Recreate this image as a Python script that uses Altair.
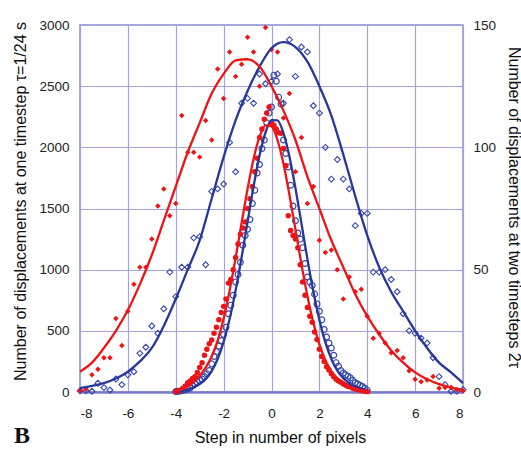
import altair as alt
import pandas as pd

# ---------------- data ----------------
# one-timestep data (left axis), steps -4..4 every 0.1 px
NARROW_X = [round(-4 + 0.1 * i, 1) for i in range(81)]
narrow_red_pts = [
    5, 8, 15, 30, 50, 75, 90, 110, 125, 160,
    200, 240, 300, 350, 395, 425, 480, 530, 590, 650,
    700, 760, 890, 920, 1000, 1100, 1210, 1290, 1340, 1390,
    1500, 1580, 1680, 1800, 1910, 2080, 2150, 2230, 2280, 2330,
    2200, 2180, 2150, 2120, 2115, 1990, 1850, 1440, 1320, 1280,
    1250, 1180, 1040, 900, 790, 690, 620, 570, 490, 430,
    350, 290, 250, 207, 180, 150, 125, 105, 90, 80,
    65, 55, 45, 40, 30, 25, 20, 15, 10, 6, 3,
]
narrow_blue_pts = [
    3, 5, 8, 12, 18, 25, 33, 50, 65, 80,
    95, 105, 125, 150, 175, 230, 290, 330, 375, 420,
    470, 530, 640, 710, 790, 900, 960, 1060, 1200, 1280,
    1330, 1410, 1540, 1650, 1790, 1860, 1990, 2060, 2200, 2280,
    2330, 2590, 2540, 2410, 2355, 2060, 1950, 1840, 1690, 1520,
    1400, 1300, 1250, 1180, 1050, 940, 900, 870, 800, 720,
    660, 590, 510, 450, 400, 360, 300, 240, 210, 175,
    155, 140, 128, 115, 95, 75, 65, 55, 45, 30, 15,
]
# fitted curves for one timestep, -4..4 every 0.25
NARROW_CX = [round(-4 + 0.25 * i, 2) for i in range(33)]
narrow_red_fit = [5, 20, 45, 85, 135, 200, 290, 420, 600, 830, 1095, 1380, 1660,
                  1905, 2085, 2180, 2170, 2060, 1865, 1610, 1330, 1045, 785, 565,
                  390, 260, 170, 110, 70, 45, 28, 17, 10]
narrow_blue_fit = [4, 10, 20, 38, 65, 105, 170, 270, 410, 596, 829, 1099, 1391,
                   1679, 1933, 2122, 2223, 2221, 2116, 1924, 1668, 1379, 1088, 819,
                   590, 405, 270, 175, 112, 72, 45, 28, 16]

# two-timestep data (right axis), steps -8..8 every 0.25 px
WIDE_X = [round(-8 + 0.25 * i, 2) for i in range(65)]
wide_red_pts = [
    0.5, 1.1, 7, 9.3, 14, 14, 30, 19, 33, 44, 51, 51, 62.5, 76, 83, 72,
    77, 113, 98, 98, 96, 111, 103, 132, 120, 139, 129, 134, 145, 139, 125, 149,
    140, 139, 112, 122, 90, 104, 77, 84, 62, 57, 58, 50, 38, 47, 41, 42,
    31, 22, 24, 20, 16, 17, 14, 8.7, 5.2, 4.2, 4.9, 6.3, 1.5, 1.8, 1.9, 0.9, 0.4,
]
wide_blue_pts = [
    0.5, 0.5, 0.3, 3.6, 1.8, 0.8, 5.3, 3, 7, 8.3, 15.8, 18.3, 27, 24, 34, 49,
    39, 51, 51, 63, 63.5, 52, 82, 83, 85, 102, 90, 118, 120, 118, 130, 126,
    127, 130, 118, 144, 129, 141, 139, 117, 114, 100, 87, 95, 87, 83, 68, 73,
    73, 49, 49, 50, 46, 41, 32, 25, 24, 22, 20, 14, 6.3, 3, 0.3, 0.3, 1,
]
# fitted curves for two timesteps, -8..8 every 0.5
WIDE_CX = [round(-8 + 0.5 * i, 1) for i in range(33)]
wide_red_fit = [8.3, 12, 18, 25, 33.5, 44, 56, 70, 84, 98, 110, 122, 130, 135.5,
                136, 133, 125, 115, 103, 88, 75, 62, 51, 40, 31, 23.5, 17, 12, 8,
                5.2, 3.2, 1.8, 0.9]
wide_blue_fit = [1.6, 2.5, 3.6, 5.5, 8.3, 12.5, 18, 27, 38, 50, 62, 79, 96, 111,
                 123, 133, 140.5, 143, 141, 135, 125, 113, 97, 80, 64, 51, 41, 33,
                 25, 18, 12, 8, 3.6]

assert len(narrow_red_pts) == len(NARROW_X) == len(narrow_blue_pts)
assert len(wide_red_pts) == len(WIDE_X) == len(wide_blue_pts)
assert len(narrow_red_fit) == len(NARROW_CX) == len(narrow_blue_fit)
assert len(wide_red_fit) == len(WIDE_CX) == len(wide_blue_fit)

X_TICKS = [-8, -6, -4, -2, 0, 2, 4, 6, 8]
LEFT_TICKS = [0, 500, 1000, 1500, 2000, 2500, 3000]
RIGHT_TICKS = [0, 50, 100, 150]

# ---------------- styling ----------------
RED = "#ee1414"
BLUE_LINE = "#27379c"
BLUE_MARK = "#3547aa"
GRID = "#a3a3dd"
FONT = "Liberation Sans"

W, H = 383, 367

df_nr = pd.DataFrame({"x": NARROW_X, "v": narrow_red_pts})
df_nb = pd.DataFrame({"x": NARROW_X, "v": narrow_blue_pts})
df_nrf = pd.DataFrame({"x": NARROW_CX, "v": narrow_red_fit})
df_nbf = pd.DataFrame({"x": NARROW_CX, "v": narrow_blue_fit})
df_wr = pd.DataFrame({"x": WIDE_X, "v": wide_red_pts})
df_wb = pd.DataFrame({"x": WIDE_X, "v": wide_blue_pts})
df_wrf = pd.DataFrame({"x": WIDE_CX, "v": wide_red_fit})
df_wbf = pd.DataFrame({"x": WIDE_CX, "v": wide_blue_fit})

x_axis = alt.Axis(
    values=X_TICKS, title="Step in number of pixels", grid=True,
    gridColor=GRID, gridWidth=1.2, ticks=False, labelPadding=14,
    labelExpr="toString(datum.value)",
    domainColor="#7b7bcc", domainWidth=2.5,
    titleX=200, titleY=45, titleBaseline="middle", titleAlign="center",
)
X = alt.X("x:Q", scale=alt.Scale(domain=[-8, 8], nice=False, zero=False), axis=x_axis)

left_axis = alt.Axis(
    values=LEFT_TICKS, format="d", grid=True, gridColor=GRID, gridWidth=1.2, ticks=False,
    labelPadding=11, domain=False,
    title="Number of displacements at one timestep \u03c4=1/24 s",
    titleX=-60, titleY=176, titleAngle=270, titleAlign="center", titleBaseline="middle",
)
YL = alt.Y("v:Q", scale=alt.Scale(domain=[0, 3000], nice=False), axis=left_axis)

right_axis = alt.Axis(
    values=RIGHT_TICKS, format="d", grid=False, orient="right", ticks=False,
    labelPadding=10, domain=False,
    title="Number of displacements at two timesteps 2\u03c4",
    titleX=50, titleY=182, titleAngle=90, titleAlign="center", titleBaseline="middle",
)
YR = alt.Y("v:Q", scale=alt.Scale(domain=[0, 150], nice=False), axis=right_axis)

left = alt.layer(
    alt.Chart(df_nb).mark_point(shape="circle", filled=False, size=34, strokeWidth=1.2,
                                 color=BLUE_MARK, opacity=1).encode(x=X, y=YL),
    alt.Chart(df_nr).mark_point(shape="circle", filled=True, size=30,
                                 color=RED, opacity=1).encode(x=X, y=YL),
    alt.Chart(df_nbf).mark_line(color=BLUE_LINE, strokeWidth=2.3,
                                interpolate="monotone").encode(x=X, y=YL),
    alt.Chart(df_nrf).mark_line(color=RED, strokeWidth=2.3,
                                interpolate="monotone").encode(x=X, y=YL),
    alt.Chart(pd.DataFrame({"t": ["B"]})).mark_text(
        font="Liberation Serif", fontWeight="bold", fontSize=24, color="#111",
        align="center", baseline="alphabetic",
    ).encode(text="t:N", x=alt.value(-58), y=alt.value(418)),
)

right = alt.layer(
    alt.Chart(df_wb).mark_point(shape="diamond", filled=False, size=34, strokeWidth=1.1,
                                 color=BLUE_MARK, opacity=1).encode(x=X, y=YR),
    alt.Chart(df_wr).mark_point(shape="diamond", filled=True, size=30,
                                 color=RED, opacity=1).encode(x=X, y=YR),
    alt.Chart(df_wbf).mark_line(color=BLUE_LINE, strokeWidth=2.3,
                                interpolate="monotone").encode(x=X, y=YR),
    alt.Chart(df_wrf).mark_line(color=RED, strokeWidth=2.3,
                                interpolate="monotone").encode(x=X, y=YR),
)

chart = (
    alt.layer(left, right)
    .resolve_scale(y="independent")
    .properties(
        width=W, height=H,
        autosize=alt.AutoSizeParams(type="none"),
        padding={"left": 80, "top": 25, "right": 58, "bottom": 57},
        background="white",
    )
    .configure_view(stroke="#8a8ad2", strokeWidth=1.5)
    .configure_axis(
        labelFont=FONT, labelFontSize=13.5, labelColor="#222",
        titleFont=FONT, titleFontSize=16, titleFontWeight="normal", titleColor="#111",
    )
)

chart.save("out.html", embed_options={"renderer": "svg", "actions": False})
